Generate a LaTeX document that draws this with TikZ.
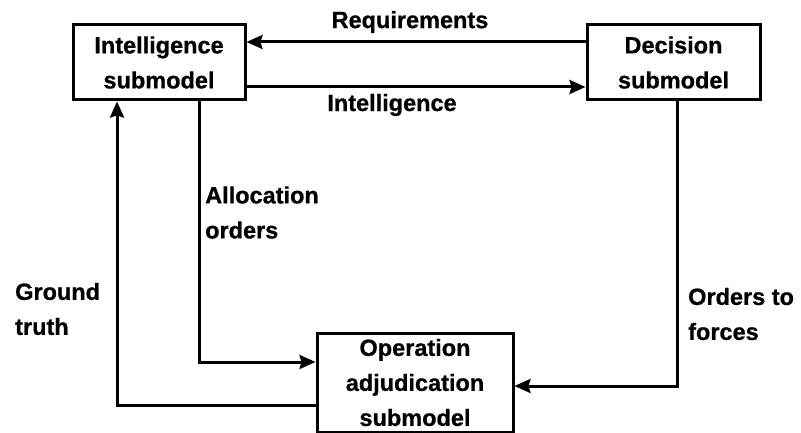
\documentclass[tikz,border=0pt]{standalone}
\usepackage{fontspec}
\setmainfont{Liberation Sans}[BoldFeatures={FakeBold=0.8}]
\usetikzlibrary{arrows.meta}
\begin{document}
\begin{tikzpicture}[x=1pt,y=-1pt,
  font=\fontsize{23.5}{35}\selectfont\bfseries,
  box/.style={draw, line width=3pt, align=center, inner sep=0pt},
  lbl/.style={align=left, inner sep=0pt, anchor=west},
  arr/.style={line width=3pt, -{Stealth[length=16pt,width=14pt,inset=2pt]}}]
\useasboundingbox (0,0) rectangle (801,433);

% the three submodels
\node[box, minimum width=172pt, minimum height=75pt] (intel) at (159,62.5)
  {Intelligence\\submodel};
\node[box, minimum width=173pt, minimum height=75pt] (dec) at (673.5,62.5)
  {Decision\\submodel};
\node[box, minimum width=196pt, minimum height=99pt] (op) at (415,382.5)
  {Operation\\adjudication\\submodel};

% flows between the submodels
\draw[arr] ([yshift=20.5pt]dec.west) -- ([yshift=20.5pt]intel.east);
\draw[arr] ([yshift=-24.5pt]intel.east) -- ([yshift=-24.5pt]dec.west);
\draw[arr] ([xshift=40pt]intel.south) |- ([yshift=20.5pt]op.west);
\draw[arr] ([xshift=3.5pt]dec.south) |- ([yshift=-3.5pt]op.east);
\draw[arr] ([yshift=-22.5pt]op.west) -| ([xshift=-42pt]intel.south);

% flow labels
\node[inner sep=0pt] (lreq) at (410,22) {Requirements};
\node[inner sep=0pt] (lint) at (392,105) {Intelligence};
\node[lbl] (lalloc) at (205,212.5) {Allocation\\orders};
\node[lbl] (lground) at (15,309) {Ground\\truth};
\node[lbl] (lorders) at (688,314) {Orders to\\forces};
\end{tikzpicture}
\end{document}
